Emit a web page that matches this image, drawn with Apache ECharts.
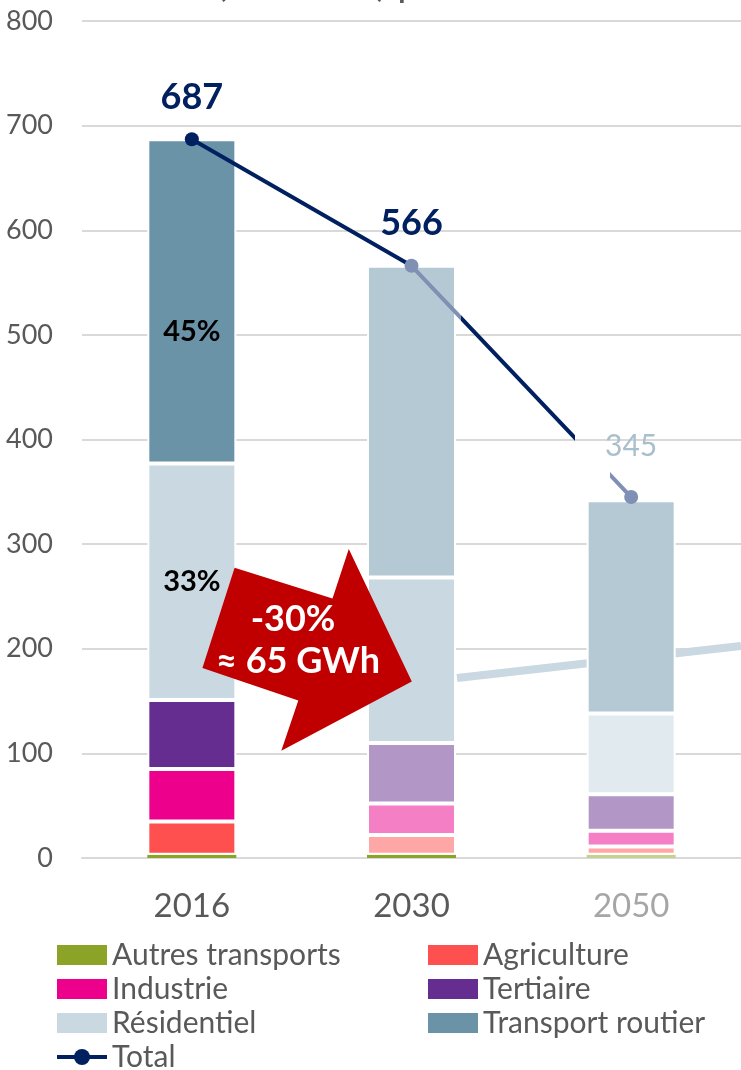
<!DOCTYPE html>
<html>
<head>
<meta charset="utf-8">
<script src="https://cdn.jsdelivr.net/npm/echarts@6/dist/echarts.min.js"></script>
<style>
  html, body { margin: 0; padding: 0; background: #fff; }
  #chart { width: 741px; height: 1070px; }
</style>
</head>
<body>
<div id="chart"></div>
<script>
// data (GWh)
var years = ['2016', '2030', '2050'];
var sectors = ['Autres transports', 'Agriculture', 'Industrie', 'Tertiaire', 'Résidentiel', 'Transport routier'];
var autresTransports = [3, 3, 3];
var agriculture = [32, 19, 8];
var industrie = [50, 30, 15];
var tertiaire = [66, 58, 35];
var residentiel = [226, 158, 77];
var transportRoutier = [310, 298, 204];
var total = [687, 566, 345];
var yMax = 800;
var yStep = 100;
var arrowLines = ['-30%', '≈ 65 GWh'];
var titleText = '(GWh/an) par secteur';

var navy = '#002060';
var navyLight = '#8090B4';
var font = 'Lato';

// one colour per year for each sector (later years are drawn paler)
var sectorColors = [
    ['#8BA326', '#8BA326', '#C5D28E'],
    ['#FF5050', '#FFA7A7', '#FFA7A7'],
    ['#EC008C', '#F47FC4', '#F47FC4'],
    ['#662D91', '#B196C6', '#B196C6'],
    ['#C9D8E1', '#C9D8E1', '#E1EAEF'],
    ['#6A93A8', '#B5C9D4', '#B5C9D4']
];
var values = [autresTransports, agriculture, industrie, tertiaire, residentiel, transportRoutier];

function renderChart(dom) {
    var myChart = echarts.init(dom);

    var barSeries = sectors.map(function (name, s) {
        return {
            name: name,
            type: 'bar',
            stack: 'total',
            barWidth: 89,
            itemStyle: {
                color: sectorColors[s][0],
                borderColor: '#fff',
                borderWidth: s === 0 ? 0 : 2
            },
            data: values[s].map(function (v, i) {
                var item = { value: v, itemStyle: { color: sectorColors[s][i] } };
                // share of the 2016 total for the two big sectors
                if (i === 0 && s >= 4) {
                    item.label = {
                        show: true,
                        position: 'inside',
                        offset: s === 5 ? [0, 30] : [0, 0],
                        formatter: function (p) {
                            return Math.round(p.value / total[0] * 100) + '%';
                        },
                        fontFamily: font,
                        fontSize: 29,
                        fontWeight: 'bold',
                        color: '#000'
                    };
                }
                return item;
            })
        };
    });

    var lineSeries = {
        name: 'Total',
        type: 'line',
        z: 5,
        symbol: 'circle',
        symbolSize: 14,
        itemStyle: { color: navy },
        lineStyle: {
            width: 4,
            color: {
                type: 'linear', x: 0, y: 0, x2: 1, y2: 0,
                colorStops: [
                    { offset: 0, color: navy },
                    { offset: 0.5, color: navy },
                    { offset: 0.5, color: navyLight },
                    { offset: 0.611, color: navyLight },
                    { offset: 0.611, color: navy },
                    { offset: 0.869, color: navy },
                    { offset: 0.869, color: 'rgba(255,255,255,0)' },
                    { offset: 0.946, color: 'rgba(255,255,255,0)' },
                    { offset: 0.946, color: navyLight },
                    { offset: 1, color: navyLight }
                ]
            }
        },
        label: {
            show: true,
            position: 'top',
            distance: 17,
            fontFamily: font,
            fontSize: 36,
            fontWeight: 'bold',
            color: navy
        },
        data: total.map(function (v, i) {
            var item = { value: v, itemStyle: { color: i === 0 ? navy : navyLight } };
            if (i === 2) {
                item.label = { fontSize: 30, fontWeight: 'normal', color: '#A9BFCB', distance: 29 };
            }
            return item;
        })
    };

    var legendText = { fontFamily: font, fontSize: 30, color: '#595959' };
    var legendBase = {
        orient: 'vertical',
        top: 940,
        height: 140,
        padding: 0,
        itemGap: 4,
        itemWidth: 50,
        itemHeight: 20,
        itemStyle: { borderWidth: 0 },
        textStyle: legendText
    };

    var option = {
        backgroundColor: '#fff',
        animation: false,
        grid: { left: 82, right: -5, top: 21, bottom: 212 },
        xAxis: {
            type: 'category',
            data: years.map(function (y, i) {
                return i === 2 ? { value: y, textStyle: { color: '#A6A6A6' } } : y;
            }),
            axisTick: { show: false },
            axisLine: { lineStyle: { color: '#D9D9D9', width: 2 } },
            axisLabel: { fontFamily: font, fontSize: 33, color: '#595959', margin: 32 }
        },
        yAxis: {
            type: 'value',
            min: 0,
            max: yMax,
            interval: yStep,
            axisLine: { show: false },
            axisTick: { show: false },
            axisLabel: { fontFamily: font, fontSize: 27, color: '#595959', margin: 29 },
            splitLine: { lineStyle: { color: '#D9D9D9', width: 2 } }
        },
        legend: [
            Object.assign({}, legendBase, {
                left: 55,
                data: [
                    { name: sectors[0], icon: 'rect' },
                    { name: sectors[2], icon: 'rect' },
                    { name: sectors[4], icon: 'rect' },
                    { name: 'Total', itemStyle: { color: navy }, lineStyle: { color: navy, width: 4 } }
                ]
            }),
            Object.assign({}, legendBase, {
                left: 428,
                data: [
                    { name: sectors[1], icon: 'rect' },
                    { name: sectors[3], icon: 'rect' },
                    { name: sectors[5], icon: 'rect' }
                ]
            })
        ],
        graphic: [
            {
                // title sits mostly above the picture; only its descenders show
                type: 'text',
                style: { text: titleText, x: 216, y: 3, textVerticalAlign: 'bottom', fill: '#595959', font: '40px Lato' }
            },
            {
                // pale stray connector behind the bars
                type: 'line', z: 1,
                shape: { x1: 457, y1: 678, x2: 741, y2: 646 },
                style: { stroke: '#C9D8E1', lineWidth: 8 }
            },
            {
                type: 'polygon', z: 100,
                shape: {
                    points: [[234.6, 567.8], [332.5, 598.5], [348.8, 549], [411.8, 681.5],
                             [281.3, 750.7], [298.3, 700.5], [202.4, 668]]
                },
                style: { fill: '#C00000' }
            },
            {
                type: 'text', z: 101,
                style: { text: arrowLines[0], x: 293, y: 619, textAlign: 'center', textVerticalAlign: 'middle', fill: '#fff', font: 'bold 36px Lato' }
            },
            {
                type: 'text', z: 101,
                style: { text: arrowLines[1], x: 298, y: 661, textAlign: 'center', textVerticalAlign: 'middle', fill: '#fff', font: 'bold 36px Lato' }
            }
        ],
        series: barSeries.concat([lineSeries])
    };

    option && myChart.setOption(option);
}

renderChart(document.getElementById('chart'));
</script>
</body>
</html>
